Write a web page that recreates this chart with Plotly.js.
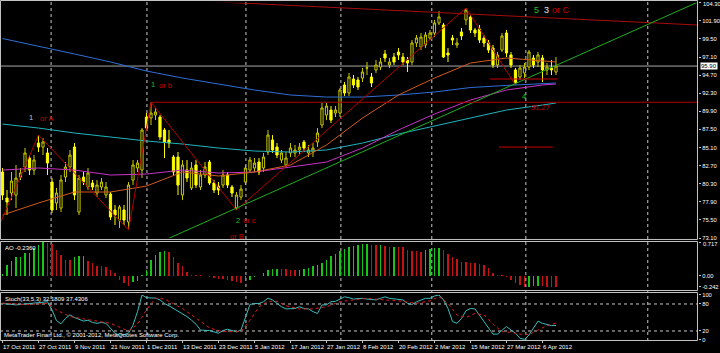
<!DOCTYPE html>
<html><head><meta charset="utf-8">
<script src="https://cdn.plot.ly/plotly-3.0.1.min.js"></script>
<style>html,body{margin:0;padding:0;background:#000;}#chart{width:720px;height:353px;}</style>
</head><body><div id="chart"></div>
<script>
// ---------- DATA ----------
const dateLabels = ["17 Oct 2011","27 Oct 2011","9 Nov 2011","21 Nov 2011","1 Dec 2011","13 Dec 2011","23 Dec 2011","5 Jan 2012","17 Jan 2012","27 Jan 2012","8 Feb 2012","20 Feb 2012","2 Mar 2012","15 Mar 2012","27 Mar 2012","6 Apr 2012"];
const dateLabelIdx = [0,8,16,24,32,40,48,56,64,72,80,88,96,104,112,120];

const openP = [81.85,78.40,79.06,78.80,81.18,82.51,83.70,82.11,85.69,85.16,
84.37,80.52,77.74,77.07,81.18,82.51,85.16,76.54,81.18,79.86,
80.39,79.06,79.86,78.80,78.93,76.81,75.48,76.81,75.22,80.79,
82.38,82.11,89.14,89.01,89.41,89.14,87.42,86.09,83.84,83.84,
78.80,82.11,79.73,82.78,79.86,81.45,83.17,80.39,79.99,80.12,
81.45,79.86,77.07,78.53,80.52,82.11,82.38,83.17,82.38,84.50,
86.09,85.16,83.44,82.78,84.37,84.37,84.77,85.83,84.37,84.50,
85.83,88.08,89.41,90.07,89.67,89.67,93.39,92.33,94.18,94.05,
94.31,95.64,94.45,95.38,95.77,97.50,96.04,97.10,97.76,97.10,
96.70,96.44,98.96,98.43,98.69,99.62,100.28,101.61,101.34,97.63,
99.62,98.69,100.42,102.01,102.41,100.68,100.81,99.62,98.96,98.29,
96.04,98.03,100.28,97.37,95.38,94.45,94.98,95.77,96.97,96.44,
96.97,95.38,95.64,95.11];
const highP = [82.38,79.46,81.85,82.78,82.38,85.03,84.10,84.10,86.75,86.36,
85.03,81.05,79.73,81.45,83.17,84.77,85.69,81.45,81.85,82.38,
80.79,80.79,81.05,80.52,79.20,77.47,77.47,77.47,80.52,83.44,
83.44,87.68,89.67,91.10,90.34,89.41,87.68,87.42,84.10,84.50,
83.44,83.44,83.17,83.44,82.11,83.17,83.44,80.79,80.52,82.11,
81.85,80.12,79.20,80.12,82.78,83.84,83.70,83.70,84.37,87.42,
86.75,85.69,84.77,84.50,85.69,85.43,85.69,86.09,85.43,85.69,
87.68,91.00,91.00,90.60,90.60,92.99,93.78,94.98,94.71,94.45,
95.64,96.44,94.98,96.70,96.97,98.03,96.97,97.63,98.29,97.63,
97.10,99.35,100.02,100.28,100.42,100.68,102.01,103.20,101.61,98.29,
100.02,99.62,100.95,103.60,102.67,100.95,101.34,100.02,99.35,98.69,
97.76,100.28,100.68,97.76,95.64,96.04,96.30,98.03,97.37,97.76,
97.37,96.30,96.70,97.10];
const lowP = [78.13,76.15,78.13,77.07,80.79,81.85,81.45,81.45,84.50,84.10,
81.45,76.41,76.81,76.54,80.52,81.85,78.13,76.15,80.12,79.46,
79.46,78.53,79.46,78.40,75.48,74.82,74.42,74.82,74.16,80.12,
81.85,81.05,87.42,88.08,88.74,86.09,83.70,85.03,81.45,78.80,
78.13,80.52,79.46,79.73,79.46,81.05,80.12,79.06,78.80,79.73,
79.73,78.53,76.81,78.13,80.12,81.72,81.85,81.45,81.85,84.10,
84.37,83.70,83.04,82.38,83.84,83.84,84.10,84.50,83.84,83.84,
85.16,87.68,88.74,88.35,89.14,89.14,91.93,91.93,92.99,92.72,
93.78,94.71,93.12,94.98,95.38,96.44,95.64,96.04,96.70,96.04,
95.11,96.04,98.43,98.03,98.29,99.35,99.75,101.34,96.97,96.44,
98.69,98.29,99.35,101.34,100.28,99.75,98.96,98.43,97.63,95.64,
95.64,97.76,97.10,95.64,93.39,94.05,94.31,95.38,95.64,95.77,
93.78,94.71,94.71,94.71];
const closeP = [78.80,77.87,80.65,81.05,81.72,84.37,82.11,83.44,85.16,85.83,
83.04,76.81,79.06,80.79,82.51,84.10,78.80,81.05,80.52,81.72,
79.86,80.12,80.52,79.86,75.88,76.15,77.21,75.48,80.12,82.78,
83.04,87.42,87.68,89.67,89.81,86.49,85.83,85.69,81.85,80.12,
82.78,81.05,82.38,80.12,81.45,82.51,80.39,79.46,79.46,81.45,
80.12,79.06,78.80,79.59,82.38,83.44,83.04,81.85,83.84,86.75,
84.77,84.10,84.37,83.70,85.03,84.77,85.16,85.03,84.77,85.03,
87.02,90.34,90.60,88.74,90.07,92.72,92.33,94.45,93.39,93.12,
95.11,95.64,93.65,96.04,96.44,96.97,96.44,96.44,97.37,96.44,
96.30,98.96,99.62,99.75,100.02,100.28,101.61,102.41,97.10,97.37,
99.35,98.96,99.89,103.33,100.68,100.28,99.35,98.96,98.03,96.04,
97.37,99.89,97.63,96.04,93.65,95.64,95.77,97.76,96.04,97.37,
95.38,95.77,95.38,95.90];

const maIdx = [0,8,16,24,32,40,48,56,64,72,80,88,96,104,112,120,123];
const maBlue    = [99.55,98.56,97.50,96.44,95.24,94.31,93.52,92.72,92.06,91.79,91.79,92.06,92.46,93.05,93.33,93.52,93.65];
const maCyan    = [88.21,87.68,87.02,86.49,85.96,85.56,85.03,84.63,84.50,84.77,85.69,86.89,87.95,89.01,90.07,90.73,91.00];
const maMagenta = [82.11,82.38,82.11,81.45,81.58,82.11,81.72,81.85,82.51,83.17,85.03,87.42,89.54,91.40,92.72,93.39,93.52];
const maOrange  = [76.15,77.74,79.20,79.20,79.99,81.85,81.32,81.85,82.78,85.43,89.01,92.06,94.31,96.30,96.97,96.57,96.44];

const zigzagIdx = [-0.6,8,28,33,52,103,114];
const zigzagVal = [74.95,86.75,74.16,91.10,76.81,103.60,93.39];

const resistIdx = [33,154.56];   const resistVal = [104.83,101.34];
const supportIdx = [36.1,154.56]; const supportVal = [72.83,104.39];
const levelLine = 91.10;          const levelStart = 33;
const targetA = 94.18; const targetAIdx = [108.3,123.4];
const targetB = 85.16; const targetBIdx = [110.3,122.3];
const lastPrice = 95.90;

const aoVals = [0.043,0.22,0.31,0.39,0.40,0.48,0.49,0.59,0.66,0.71,
0.70,0.675,0.55,0.45,0.34,0.33,0.40,0.41,0.415,0.31,
0.26,0.21,0.205,0.18,0.11,0.06,-0.10,-0.16,-0.23,-0.14,
-0.12,0.02,0.11,0.34,0.45,0.50,0.52,0.50,0.40,0.27,
0.20,0.07,0.02,0.005,0.004,0.003,-0.03,-0.05,-0.065,-0.07,
-0.085,-0.12,-0.14,-0.16,-0.12,-0.085,-0.035,0.0,0.057,0.11,
0.14,0.15,0.148,0.14,0.13,0.11,0.13,0.14,0.16,0.20,
0.23,0.28,0.34,0.41,0.47,0.52,0.57,0.61,0.64,0.66,
0.68,0.685,0.66,0.655,0.66,0.64,0.61,0.62,0.61,0.60,
0.54,0.53,0.525,0.50,0.54,0.575,0.58,0.585,0.54,0.47,
0.40,0.36,0.29,0.285,0.27,0.26,0.25,0.22,0.16,0.06,
0.01,0.004,-0.02,-0.09,-0.15,-0.19,-0.24,-0.235,-0.23,-0.225,
-0.23,-0.232,-0.234,-0.236];

const stochK = [81,80,79,78,79,80,80,81,83,84,85,67,43,36,48,56,50,46,42,44,
39,37,39,37,27,15,11,12,15,33,63,100,94,93,93,89,81,76,70,65,
59,52,44,35,22,21,21,18,15,21,24,21,18,22,52,79,81,81,85,93,
89,81,74,69,69,70,74,70,69,63,59,78,78,85,86,91,96,94,91,92,
92.6,91,89.6,89,92.6,96,92.6,91,90.4,89,81.5,79,85,89,92.6,92.6,97.8,100,89,70,
41,37,48,65,70,69,55.6,42,27,13,13,22,30,22,15,3.7,1.5,11,26,42,
37,35,32,32.18];
const stochDIdx = [0,5,10,12,15,20,24,28,30,32,34,36,38,40,42,44,46,48,50,53,55,57,59,61,63,66,69,72,75,78,81,85,89,92,95,97,99,101,103,105,107,109,111,113,115,117,119,121,123];
const stochD = [82,78.5,81.5,66.7,52,44,37,20,35,67,93,91,81,70,55.6,41,27,21,18.5,18.5,44,74,86,86,76,69,69,74,85,89,92.6,89,86,81.5,87,96,81.5,55.6,50,59,55.6,35,18.5,17,13,12,22,32,37.43];

const priceTicks = [73.10,75.50,77.90,80.30,82.70,85.10,87.50,89.90,92.30,94.70,97.10,99.50,101.90,104.30];
const priceTickText = ["73.10","75.50","77.90","80.30","82.70","85.10","87.50","89.90","92.30","94.70","97.10","99.50","101.90",""];
const priceMaxLabel = "104.30";
const aoTicks = [-0.242,0,0.717];
const aoTickText = ["-0.242","0.00",""];
const aoMaxLabel = "0.717";
const stochTicks = [0,20,80,100];
const gridIdx = [10.8,32.1,54.1,75.2,95.4,116.3,143.4];

// ---------- BUILD ----------
const barX = openP.map((_, i) => i);
const aoColors = aoVals.map((v, i) => (i === 0 || v > aoVals[i-1]) ? '#19c419' : '#c41313');
const XR = [-0.556, 154.56];
const fontF = 'Liberation Sans, Arial, sans-serif';

const traces = [
  {type:'scatter', mode:'lines', x:maIdx, y:maBlue, line:{color:'#2f6fd6', width:1}, xaxis:'x', yaxis:'y', hoverinfo:'skip'},
  {type:'scatter', mode:'lines', x:maIdx, y:maCyan, line:{color:'#22b3bd', width:1}, xaxis:'x', yaxis:'y', hoverinfo:'skip'},
  {type:'scatter', mode:'lines', x:maIdx, y:maMagenta, line:{color:'#c733c7', width:1}, xaxis:'x', yaxis:'y', hoverinfo:'skip'},
  {type:'scatter', mode:'lines', x:maIdx, y:maOrange, line:{color:'#d2591e', width:1}, xaxis:'x', yaxis:'y', hoverinfo:'skip'},
  {type:'scatter', mode:'lines', x:zigzagIdx, y:zigzagVal, line:{color:'#b40000', width:1}, xaxis:'x', yaxis:'y', hoverinfo:'skip'},
  {type:'scatter', mode:'lines', x:resistIdx, y:resistVal, line:{color:'#a80c0c', width:1}, xaxis:'x', yaxis:'y', hoverinfo:'skip'},
  {type:'scatter', mode:'lines', x:supportIdx, y:supportVal, line:{color:'#1fae1f', width:1}, xaxis:'x', yaxis:'y', hoverinfo:'skip'},
  {type:'scatter', mode:'lines', x:[levelStart, XR[1]], y:[levelLine, levelLine], line:{color:'#b40000', width:1}, xaxis:'x', yaxis:'y', hoverinfo:'skip'},
  {type:'scatter', mode:'lines', x:targetAIdx, y:[targetA, targetA], line:{color:'#c80000', width:1}, xaxis:'x', yaxis:'y', hoverinfo:'skip'},
  {type:'scatter', mode:'lines', x:targetBIdx, y:[targetB, targetB], line:{color:'#c80000', width:1}, xaxis:'x', yaxis:'y', hoverinfo:'skip'},
  {type:'candlestick', x:barX, open:openP, high:highP, low:lowP, close:closeP, xaxis:'x', yaxis:'y',
   increasing:{line:{color:'#c8c800', width:1}, fillcolor:'#000000'},
   decreasing:{line:{color:'#ffff00', width:1}, fillcolor:'#ffff00'},
   whiskerwidth:0, hoverinfo:'skip'},
  {type:'bar', x:barX, y:aoVals, marker:{color:aoColors, line:{width:0}}, width:0.26, xaxis:'x', yaxis:'y2', hoverinfo:'skip'},
  {type:'scatter', mode:'lines', x:barX, y:stochK, line:{color:'#3cbcbc', width:1}, xaxis:'x', yaxis:'y3', hoverinfo:'skip'},
  {type:'scatter', mode:'lines', x:stochDIdx, y:stochD, line:{color:'#e01c1c', width:1, dash:'dot'}, xaxis:'x', yaxis:'y3', hoverinfo:'skip'}
];

const shapes = [];
gridIdx.forEach(g => shapes.push({type:'line', xref:'x', yref:'paper', x0:g, x1:g, y0:0, y1:1, line:{color:'#c8c8c8', width:1, dash:'dot'}, layer:'below'}));
shapes.push({type:'line', xref:'paper', yref:'y', x0:0, x1:1, y0:lastPrice, y1:lastPrice, line:{color:'#a8a8a8', width:1}, layer:'below'});
[80,20].forEach(l => shapes.push({type:'line', xref:'paper', yref:'y3', x0:0, x1:1, y0:l, y1:l, line:{color:'#c8c8c8', width:1, dash:'dot'}, layer:'below'}));
// panel frames
[[0.2977,0.9985],[0.1481,0.2918],[0.0015,0.1422]].forEach(f => shapes.push({type:'rect', xref:'paper', yref:'paper', x0:0.0007, x1:0.99928, y0:f[0], y1:f[1], line:{color:'#c4c4c4', width:1}, fillcolor:'rgba(0,0,0,0)', layer:'above'}));

const ann = [];
dateLabels.forEach((t, k) => ann.push({xref:'x', yref:'paper', x:dateLabelIdx[k]-0.4, y:0, xanchor:'left', yanchor:'top', yshift:-1, text:t, showarrow:false, font:{family:fontF, size:6, color:'#ffffff'}}));
function lab(x, y, t, c, s) { ann.push({xref:'x', yref:'y', x:x, y:y, xanchor:'left', yanchor:'middle', text:t, showarrow:false, font:{family:fontF, size:s||7.5, color:c}}); }
lab(5.4, 89.14, '1', '#c0c0c0');
lab(7.9, 89.0, 'or A', '#c80000');
lab(32.6, 93.39, '1', '#20c020');
lab(34.4, 93.30, 'or b', '#c80000');
lab(51.5, 75.48, '2', '#20c020');
lab(53.0, 75.45, 'or c', '#c80000');
lab(50.2, 73.25, 'or B', '#c80000');
lab(117.6, 103.33, '5', '#20c020', 9);
lab(119.9, 103.33, '3', '#e8e8e8', 9);
lab(121.6, 103.33, 'or C', '#c80000', 9);
lab(115.0, 91.80, '4', '#20c020');
lab(117.0, 90.34, '91.27', '#c80000');
ann.push({xref:'paper', yref:'y', x:1, y:lastPrice, xanchor:'left', yanchor:'middle', xshift:2, text:'95.90', showarrow:false, bgcolor:'#ffffff', borderpad:0, font:{family:fontF, size:6, color:'#000000'}});
ann.push({xref:'paper', yref:'y', x:1, y:104.30, xanchor:'left', yanchor:'middle', xshift:3, yshift:-1, text:priceMaxLabel, showarrow:false, font:{family:fontF, size:5.8, color:'#ffffff'}});
ann.push({xref:'paper', yref:'paper', x:1, y:0.2830, xanchor:'left', yanchor:'middle', xshift:3, text:aoMaxLabel, showarrow:false, font:{family:fontF, size:5.8, color:'#ffffff'}});
ann.push({xref:'paper', yref:'paper', x:0.004, y:0.2875, xanchor:'left', yanchor:'top', text:'AO -0.2360', showarrow:false, font:{family:fontF, size:6, color:'#ffffff'}});
ann.push({xref:'paper', yref:'paper', x:0.004, y:0.138, xanchor:'left', yanchor:'top', text:'Stoch(33,5,3) 32.1809 37.4306', showarrow:false, font:{family:fontF, size:6, color:'#ffffff'}});
ann.push({xref:'paper', yref:'paper', x:0.003, y:0.003, xanchor:'left', yanchor:'bottom', text:'MetaTrader Finan Ltd., © 2001-2012, MetaQuotes Software Corp.', showarrow:false, font:{family:fontF, size:6, color:'#ffffff'}});

const yCommon = {side:'right', anchor:'x', showgrid:false, zeroline:false, showline:false, ticks:'outside', ticklen:2, tickcolor:'#c4c4c4', tickfont:{family:fontF, size:5.8, color:'#ffffff'}, fixedrange:true};
const layout = {
  width:720, height:353, margin:{l:0, r:22, t:0, b:12, pad:0},
  paper_bgcolor:'#000000', plot_bgcolor:'#000000', showlegend:false,
  xaxis:{range:XR, anchor:'y3', showgrid:false, zeroline:false, showline:false, showticklabels:false,
         tickvals:dateLabelIdx, ticks:'outside', ticklen:2, tickcolor:'#c4c4c4', rangeslider:{visible:false}, fixedrange:true},
  yaxis: Object.assign({}, yCommon, {domain:[0.30205,0.99208], range:[73.0999,104.3001], tickvals:priceTicks, ticktext:priceTickText}),
  yaxis2:Object.assign({}, yCommon, {domain:[0.15836,0.29032], range:[-0.2421,0.7171], tickvals:aoTicks, ticktext:aoTickText}),
  yaxis3:Object.assign({}, yCommon, {domain:[0.00293,0.1349], range:[-0.01,100.01], tickvals:stochTicks}),
  shapes:shapes, annotations:ann, bargap:0
};
Plotly.newPlot('chart', traces, layout, {displayModeBar:false, staticPlot:true});
</script></body></html>
